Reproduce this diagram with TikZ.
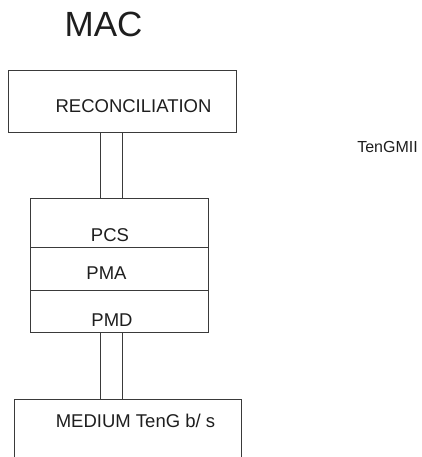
\documentclass[tikz,border=0pt]{standalone}
\usepackage{fontspec}
\setmainfont{Liberation Sans}
\definecolor{edge}{HTML}{3A3A3A}
\definecolor{ink}{HTML}{1E1E1E}
\begin{document}
\begin{tikzpicture}[x=1pt,y=-1pt,
  layer/.style={draw=edge, line width=1pt, inner sep=0pt, anchor=north west},
  lbl/.style={text=ink, inner sep=0pt, anchor=base, font=\fontsize{18.5}{20}\selectfont},
  link/.style={draw=edge, line width=0.9pt}]
  \clip (0,0) rectangle (422,457);
  \useasboundingbox (0,0) rectangle (422,457);

  % title
  \node[lbl, font=\fontsize{35}{38}\selectfont] (mac) at (103.5,37) {MAC};

  % reconciliation sublayer
  \node[layer, minimum width=228pt, minimum height=62pt] (recon) at (8,70) {};
  \node[lbl] (recontxt) at (133.5,113) {RECONCILIATION};

  % interface label
  \node[lbl, font=\fontsize{16}{18}\selectfont] (mii) at (387.5,153) {TenGMII};

  % PHY stack
  \node[layer, minimum width=178pt, minimum height=49pt] (pcs) at (30,198) {};
  \node[layer, minimum width=178pt, minimum height=43pt] (pma) at (30,247) {};
  \node[layer, minimum width=178pt, minimum height=42pt] (pmd) at (30,290) {};
  \node[lbl] (pcstxt) at (110,241) {PCS};
  \node[lbl] (pmatxt) at (106.5,279) {PMA};
  \node[lbl] (pmdtxt) at (112,326) {PMD};

  % medium
  \node[layer, minimum width=227pt, minimum height=80pt] (medium) at (14,399) {};
  \node[lbl] (mediumtxt) at (135.5,427) {MEDIUM TenG b/ s};

  % double-line links between layers
  \coordinate (lxa) at (100,0);
  \coordinate (lxb) at (122,0);
  \draw[link] (recon.south -| lxa) -- (pcs.north -| lxa);
  \draw[link] (recon.south -| lxb) -- (pcs.north -| lxb);
  \draw[link] (pmd.south -| lxa) -- (medium.north -| lxa);
  \draw[link] (pmd.south -| lxb) -- (medium.north -| lxb);
\end{tikzpicture}
\end{document}
